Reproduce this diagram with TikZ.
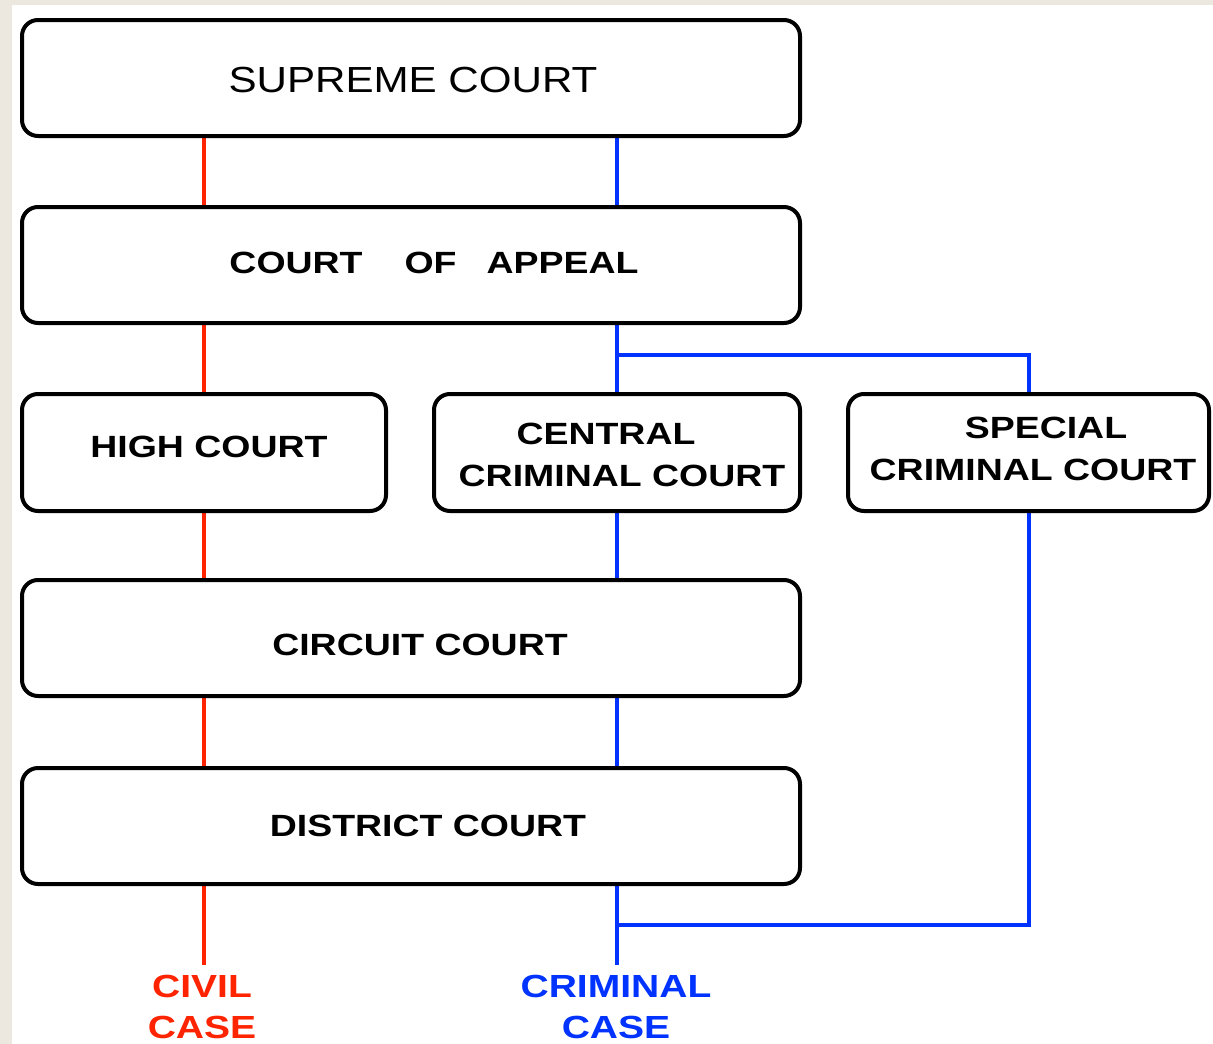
\documentclass[tikz,border=0pt]{standalone}
\usepackage{fontspec}
\setmainfont{Liberation Sans}
\newfontfamily\bw{Liberation Sans}[FakeStretch=1.22]
\newfontfamily\rw{Liberation Sans}[FakeStretch=1.16]
\usetikzlibrary{backgrounds}
\definecolor{civred}{RGB}{255,36,0}
\definecolor{crimblue}{RGB}{0,51,255}
\definecolor{beige}{RGB}{236,232,224}
\begin{document}
\begin{tikzpicture}[x=1pt,y=-1pt,
  court/.style={draw=black, line width=4pt, rounded corners=16pt, fill=white, inner sep=0pt, minimum height=116pt},
  lbl/.style={font=\bw\bfseries\fontsize{30.7}{42}\selectfont, align=center, inner sep=0pt},
  caselbl/.style={font=\bw\bfseries\fontsize{32}{41}\selectfont, align=center, inner sep=0pt},
  civ/.style={line width=4pt, draw=civred},
  crim/.style={line width=4pt, draw=crimblue}]
\useasboundingbox (0,0) rectangle (1213,1044);

% boxes
\node[court, minimum width=778pt] (sup) at (411,78) {};
\node[court, minimum width=778pt] (coa) at (411,265) {};
\node[court, minimum width=364pt, minimum height=117pt] (hc) at (204,452.5) {};
\node[court, minimum width=366pt, minimum height=117pt] (ccc) at (617,452.5) {};
\node[court, minimum width=361pt, minimum height=117pt] (scc) at (1028.5,452.5) {};
\node[court, minimum width=778pt] (cc) at (411,638) {};
\node[court, minimum width=778pt] (dc) at (411,826) {};

% texts
\node[inner sep=0pt, font=\rw\fontsize{36.3}{40}\selectfont] (supT) at ([xshift=2pt,yshift=-2pt]sup.center) {SUPREME COURT};
\node[lbl] (coaT) at ([xshift=23pt,yshift=2pt]coa.center) {COURT\hspace{42pt}OF\hspace{30pt}APPEAL};
\node[lbl] (hcT) at ([xshift=5pt,yshift=5.5pt]hc.center) {HIGH COURT};
\node[lbl] (cccA) at (606,434) {CENTRAL};
\node[lbl] (cccB) at (622,476) {CRIMINAL COURT};
\node[lbl] (sccA) at (1046,428) {SPECIAL};
\node[lbl] (sccB) at (1033,470) {CRIMINAL COURT};
\node[lbl] (ccT) at ([xshift=9pt,yshift=-7pt]cc.center) {CIRCUIT COURT};
\node[lbl] (dcT) at ([xshift=17pt]dc.center) {DISTRICT COURT};

\node[caselbl, text=civred] (civT) at (202,1007) {CIVIL\\CASE};
\node[caselbl, text=crimblue] (crimT) at (616,1007) {CRIMINAL\\CASE};

\coordinate (civend) at (204,965);
\coordinate (crimend) at (617,965);
\coordinate (br1) at (617,355);
\coordinate (br2) at (617,925);

\begin{scope}[on background layer]
  \fill[beige] (0,0) rectangle (1213,1044);
  \fill[white] (12,5) rectangle (1213,1044);
  % civil path
  \draw[civ] (sup.south -| hc.center) -- (coa.north -| hc.center);
  \draw[civ] (coa.south -| hc.center) -- (hc.north);
  \draw[civ] (hc.south) -- (cc.north -| hc.center);
  \draw[civ] (cc.south -| hc.center) -- (dc.north -| hc.center);
  \draw[civ] (dc.south -| hc.center) -- (civend);
  % criminal path
  \draw[crim] (sup.south -| ccc.center) -- (coa.north -| ccc.center);
  \draw[crim] (coa.south -| ccc.center) -- (ccc.north);
  \draw[crim] (br1) -| (scc.north);
  \draw[crim] (ccc.south) -- (cc.north -| ccc.center);
  \draw[crim] (cc.south -| ccc.center) -- (dc.north -| ccc.center);
  \draw[crim] (dc.south -| ccc.center) -- (crimend);
  \draw[crim] (scc.south) |- (br2);
\end{scope}
\end{tikzpicture}
\end{document}
